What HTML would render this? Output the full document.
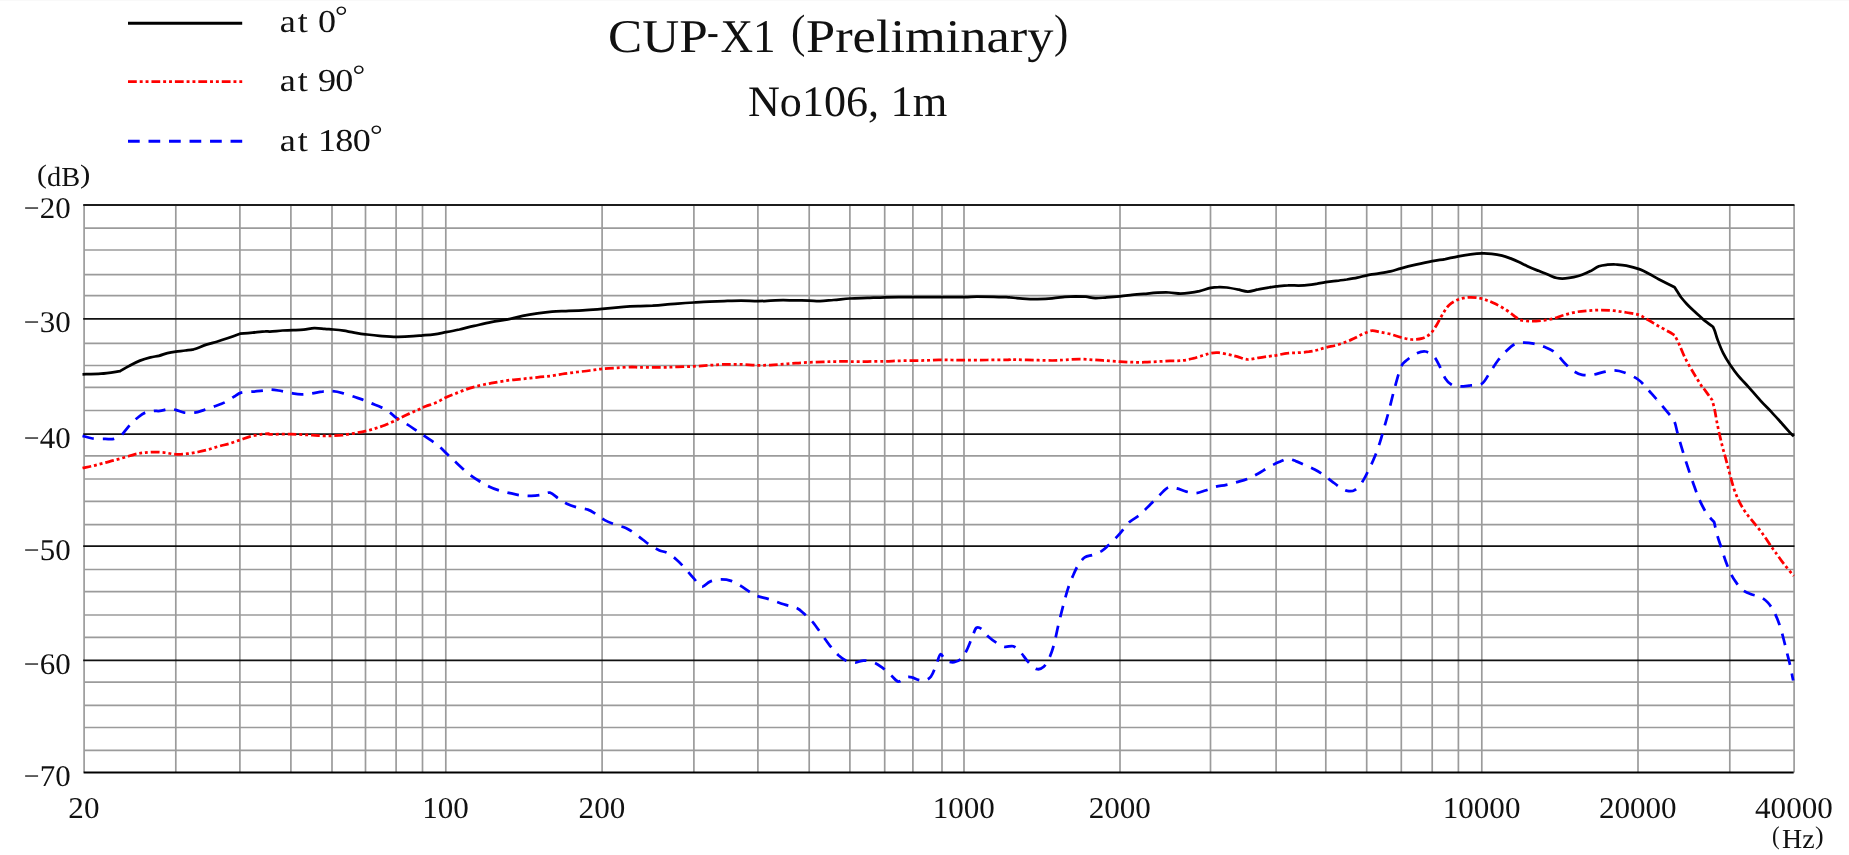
<!DOCTYPE html>
<html lang="en"><head><meta charset="utf-8"><title>CUP-X1 (Preliminary) No106, 1m</title>
<style>html,body{margin:0;padding:0;background:#fff;overflow:hidden}svg{display:block;will-change:transform}</style></head>
<body>
<svg width="1849" height="855" viewBox="0 0 1849 855" font-family="'Liberation Serif', serif" text-rendering="geometricPrecision" fill="#111">
<rect width="1849" height="855" fill="#fff"/>
<rect width="1849" height="1" fill="#f9f9f9"/>
<g stroke="#9b9b9b" stroke-width="1.7" fill="none">
<line x1="84.1" y1="205.0" x2="84.1" y2="772.5"/>
<line x1="175.8" y1="205.0" x2="175.8" y2="772.5"/>
<line x1="239.9" y1="205.0" x2="239.9" y2="772.5"/>
<line x1="290.9" y1="205.0" x2="290.9" y2="772.5"/>
<line x1="332.0" y1="205.0" x2="332.0" y2="772.5"/>
<line x1="365.5" y1="205.0" x2="365.5" y2="772.5"/>
<line x1="396.1" y1="205.0" x2="396.1" y2="772.5"/>
<line x1="422.5" y1="205.0" x2="422.5" y2="772.5"/>
<line x1="445.8" y1="205.0" x2="445.8" y2="772.5"/>
<line x1="602.1" y1="205.0" x2="602.1" y2="772.5"/>
<line x1="693.9" y1="205.0" x2="693.9" y2="772.5"/>
<line x1="757.9" y1="205.0" x2="757.9" y2="772.5"/>
<line x1="809.2" y1="205.0" x2="809.2" y2="772.5"/>
<line x1="849.9" y1="205.0" x2="849.9" y2="772.5"/>
<line x1="884.7" y1="205.0" x2="884.7" y2="772.5"/>
<line x1="912.9" y1="205.0" x2="912.9" y2="772.5"/>
<line x1="942.0" y1="205.0" x2="942.0" y2="772.5"/>
<line x1="964.0" y1="205.0" x2="964.0" y2="772.5"/>
<line x1="1120.0" y1="205.0" x2="1120.0" y2="772.5"/>
<line x1="1210.5" y1="205.0" x2="1210.5" y2="772.5"/>
<line x1="1276.1" y1="205.0" x2="1276.1" y2="772.5"/>
<line x1="1325.8" y1="205.0" x2="1325.8" y2="772.5"/>
<line x1="1366.7" y1="205.0" x2="1366.7" y2="772.5"/>
<line x1="1401.3" y1="205.0" x2="1401.3" y2="772.5"/>
<line x1="1432.2" y1="205.0" x2="1432.2" y2="772.5"/>
<line x1="1458.4" y1="205.0" x2="1458.4" y2="772.5"/>
<line x1="1481.8" y1="205.0" x2="1481.8" y2="772.5"/>
<line x1="1638.0" y1="205.0" x2="1638.0" y2="772.5"/>
<line x1="1729.8" y1="205.0" x2="1729.8" y2="772.5"/>
<line x1="1794.1" y1="205.0" x2="1794.1" y2="772.5"/>
<line x1="84.0" y1="228.1" x2="1794.1" y2="228.1"/>
<line x1="84.0" y1="250.0" x2="1794.1" y2="250.0"/>
<line x1="84.0" y1="274.7" x2="1794.1" y2="274.7"/>
<line x1="84.0" y1="295.6" x2="1794.1" y2="295.6"/>
<line x1="84.0" y1="343.4" x2="1794.1" y2="343.4"/>
<line x1="84.0" y1="365.5" x2="1794.1" y2="365.5"/>
<line x1="84.0" y1="387.4" x2="1794.1" y2="387.4"/>
<line x1="84.0" y1="410.5" x2="1794.1" y2="410.5"/>
<line x1="84.0" y1="455.8" x2="1794.1" y2="455.8"/>
<line x1="84.0" y1="479.0" x2="1794.1" y2="479.0"/>
<line x1="84.0" y1="501.4" x2="1794.1" y2="501.4"/>
<line x1="84.0" y1="524.6" x2="1794.1" y2="524.6"/>
<line x1="84.0" y1="569.5" x2="1794.1" y2="569.5"/>
<line x1="84.0" y1="591.7" x2="1794.1" y2="591.7"/>
<line x1="84.0" y1="615.0" x2="1794.1" y2="615.0"/>
<line x1="84.0" y1="637.4" x2="1794.1" y2="637.4"/>
<line x1="84.0" y1="682.1" x2="1794.1" y2="682.1"/>
<line x1="84.0" y1="705.4" x2="1794.1" y2="705.4"/>
<line x1="84.0" y1="727.5" x2="1794.1" y2="727.5"/>
<line x1="84.0" y1="750.4" x2="1794.1" y2="750.4"/>
</g>
<g stroke="#111" fill="none">
<line x1="83.2" y1="318.8" x2="1794.5" y2="318.8" stroke-width="1.7"/>
<line x1="83.2" y1="434.2" x2="1794.5" y2="434.2" stroke-width="1.7"/>
<line x1="83.2" y1="546.2" x2="1794.5" y2="546.2" stroke-width="1.7"/>
<line x1="83.2" y1="660.3" x2="1794.5" y2="660.3" stroke-width="1.7"/>
<line x1="83.2" y1="205.0" x2="1794.5" y2="205.0" stroke-width="2" stroke="#1c1c1c"/>
<line x1="83.6" y1="772.5" x2="1793.7" y2="772.5" stroke-width="1.8" stroke="#000"/>
</g>
<g fill="none" stroke-width="2.75" stroke-linejoin="round">
<path stroke="#0000ff" stroke-dasharray="11.72 8.79" d="M82.5 435.8C84.2 436.2 88.8 438.0 92.6 438.5C96.4 439.1 101.8 438.9 105.3 438.9C108.8 439.0 110.9 439.7 113.7 438.9C116.5 438.2 120.7 435.4 122.1 434.7C123.5 433.0 127.9 427.1 130.5 424.2C133.2 421.3 135.4 419.4 137.9 417.5C140.4 415.5 142.6 413.7 145.3 412.6C147.9 411.5 151.2 411.2 153.7 410.9C156.1 410.7 157.5 411.3 160.0 410.9C162.5 410.6 165.8 409.2 168.4 409.1C171.1 408.9 173.2 409.3 175.8 409.9C178.4 410.5 181.1 412.2 184.2 412.6C187.4 413.1 191.4 413.1 194.7 412.6C198.1 412.2 200.9 410.9 204.2 409.9C207.5 408.8 211.2 407.6 214.7 406.3C218.2 405.0 222.1 403.7 225.3 402.1C228.4 400.5 231.1 398.4 233.7 396.8C236.3 395.3 237.9 393.5 241.1 392.6C244.2 391.8 248.9 391.9 252.6 391.6C256.3 391.2 260.3 390.9 263.2 390.5C266.1 390.2 267.5 389.5 270.0 389.5C272.5 389.5 274.9 389.9 278.4 390.5C281.9 391.1 287.2 392.4 291.1 393.1C294.9 393.7 298.1 394.3 301.6 394.3C305.1 394.4 308.6 393.7 312.1 393.3C315.6 392.8 319.3 391.9 322.6 391.6C326.0 391.2 328.8 390.9 332.1 391.2C335.4 391.4 338.9 392.1 342.6 393.1C346.3 394.0 350.9 395.8 354.2 396.8C357.5 397.9 359.8 398.5 362.6 399.6C365.4 400.6 367.9 401.9 371.1 403.2C374.2 404.5 378.4 405.8 381.6 407.4C384.7 408.9 387.5 410.9 390.0 412.6C392.5 414.4 393.5 416.0 396.3 417.9C399.1 419.8 403.3 422.0 406.8 424.2C410.4 426.4 414.2 429.1 417.4 431.2C420.5 433.3 422.3 434.4 425.8 436.8C429.3 439.3 434.7 442.8 438.4 445.8C442.1 448.8 444.7 451.9 447.9 454.8C451.1 457.8 454.0 460.6 457.4 463.7C460.7 466.7 464.4 470.4 467.9 473.2C471.4 476.0 474.9 478.3 478.4 480.5C481.9 482.7 485.4 484.7 488.9 486.4C492.5 488.1 496.0 489.5 499.5 490.6C503.0 491.8 506.5 492.4 510.0 493.2C513.5 493.9 517.0 494.8 520.5 495.3C524.0 495.7 527.5 496.0 531.1 495.9C534.6 495.8 538.4 495.4 541.6 494.8C544.7 494.3 547.2 492.1 550.0 492.7C552.8 493.3 555.6 496.6 558.4 498.4C561.2 500.2 563.7 502.2 566.8 503.7C570.0 505.2 573.9 506.5 577.4 507.5C580.9 508.5 584.7 508.5 587.9 509.6C591.1 510.7 593.5 512.5 596.3 514.2C599.1 516.0 601.6 518.4 604.7 520.1C607.9 521.9 611.8 523.4 615.3 524.7C618.8 526.0 622.6 526.5 625.8 527.9C628.9 529.3 631.4 531.2 634.2 533.2C637.0 535.1 639.8 537.4 642.6 539.5C645.4 541.6 648.2 544.0 651.1 545.8C653.9 547.6 656.7 549.2 659.5 550.4C662.3 551.6 665.1 551.6 667.9 553.2C670.7 554.7 673.5 557.0 676.3 559.5C679.1 561.9 681.8 564.7 684.7 567.9C687.6 571.1 691.0 575.3 693.8 578.4C696.6 581.6 698.9 586.3 701.6 586.8C704.3 587.4 706.8 582.8 710.0 581.6C713.2 580.4 717.0 579.6 720.5 579.5C724.0 579.4 727.5 579.8 731.1 580.9C734.6 582.1 738.4 584.6 741.6 586.4C744.7 588.3 747.3 590.5 750.0 592.1C752.7 593.8 754.8 595.2 758.0 596.3C761.2 597.5 764.7 597.7 768.9 599.1C773.2 600.4 779.1 602.8 783.7 604.3C788.2 605.8 792.8 606.2 796.3 607.9C799.8 609.5 801.9 611.8 804.7 614.2C807.5 616.7 810.4 619.3 813.2 622.6C816.0 626.0 818.8 630.4 821.6 634.2C824.4 638.1 827.2 642.3 830.0 645.8C832.8 649.3 835.8 652.8 838.4 655.3C841.1 657.7 843.0 659.3 845.8 660.5C848.6 661.8 852.3 662.6 855.3 662.6C858.2 662.6 860.5 660.5 863.7 660.5C866.8 660.5 871.1 661.4 874.2 662.6C877.4 663.9 879.8 665.8 882.6 667.9C885.4 670.0 888.4 673.0 891.1 675.3C893.7 677.5 896.0 681.2 898.4 681.6C900.9 681.9 903.5 678.1 905.8 677.4C908.1 676.7 910.0 676.9 912.1 677.4C914.2 677.8 916.3 679.4 918.4 679.9C920.5 680.4 922.6 681.1 924.7 680.5C926.8 679.9 929.1 678.9 931.1 676.3C933.0 673.7 934.7 668.4 936.3 664.7C937.9 661.1 938.9 654.9 940.5 654.2C942.1 653.5 943.5 659.2 945.8 660.5C948.1 661.9 951.6 662.6 954.2 662.2C956.8 661.9 959.5 660.5 961.6 658.4C963.7 656.4 965.1 653.5 966.8 650.0C968.6 646.5 970.5 641.1 972.1 637.4C973.7 633.7 974.7 629.3 976.3 627.9C977.9 626.5 979.6 627.5 981.6 628.9C983.5 630.4 985.4 634.0 987.9 636.3C990.4 638.6 993.5 640.9 996.3 642.6C999.1 644.4 1001.9 646.2 1004.7 646.8C1007.5 647.4 1010.5 645.3 1013.2 646.2C1015.8 647.1 1018.1 649.5 1020.5 652.1C1023.0 654.7 1025.3 658.8 1027.9 661.6C1030.5 664.4 1033.7 668.1 1036.3 668.9C1038.9 669.8 1041.4 668.9 1043.7 666.8C1046.0 664.7 1048.2 660.2 1050.0 656.3C1051.8 652.5 1052.8 648.9 1054.2 643.7C1055.6 638.4 1057.0 630.7 1058.4 624.7C1059.8 618.8 1061.1 613.9 1062.6 607.9C1064.2 601.9 1066.1 594.4 1067.9 588.9C1069.6 583.5 1071.4 579.3 1073.2 575.3C1074.9 571.2 1076.5 567.7 1078.4 564.7C1080.4 561.8 1082.3 559.0 1084.7 557.4C1087.2 555.7 1090.4 555.9 1093.2 554.8C1096.0 553.8 1099.0 552.6 1101.6 551.1C1104.1 549.5 1105.5 548.0 1108.4 545.3C1111.3 542.5 1115.4 538.6 1118.9 534.7C1122.5 530.9 1126.0 525.4 1129.5 522.1C1133.0 518.8 1136.5 517.7 1140.0 514.7C1143.5 511.8 1147.2 507.5 1150.5 504.2C1153.9 500.9 1157.0 497.5 1160.0 494.7C1163.0 491.9 1165.6 488.4 1168.4 487.4C1171.2 486.3 1173.9 487.7 1176.8 488.4C1179.8 489.1 1183.2 490.8 1186.3 491.6C1189.5 492.4 1192.6 493.2 1195.8 493.1C1198.9 492.9 1201.9 491.6 1205.3 490.5C1208.6 489.5 1212.3 487.7 1215.8 486.7C1219.3 485.8 1222.8 485.6 1226.3 484.8C1229.8 484.1 1233.3 483.1 1236.8 482.1C1240.4 481.1 1243.9 480.4 1247.4 478.9C1250.9 477.5 1254.4 475.6 1257.9 473.7C1261.4 471.8 1264.9 469.3 1268.4 467.4C1271.9 465.4 1275.8 463.5 1278.9 462.1C1282.1 460.7 1284.6 459.1 1287.4 458.9C1290.2 458.8 1292.8 460.0 1295.8 461.1C1298.8 462.1 1302.1 463.9 1305.3 465.3C1308.4 466.7 1311.8 467.9 1314.7 469.5C1317.7 471.1 1320.4 472.8 1323.2 474.7C1326.0 476.7 1328.8 478.9 1331.6 481.1C1334.4 483.2 1337.4 485.7 1340.0 487.4C1342.6 489.0 1344.9 490.5 1347.4 490.9C1349.8 491.4 1352.3 491.6 1354.7 490.1C1357.2 488.6 1359.8 485.4 1362.1 482.1C1364.4 478.8 1366.3 474.7 1368.4 470.5C1370.5 466.3 1372.8 461.6 1374.7 456.8C1376.7 452.1 1378.4 447.0 1380.0 442.1C1381.6 437.2 1382.8 432.3 1384.2 427.4C1385.6 422.5 1386.7 419.2 1388.4 412.6C1390.2 406.1 1392.6 395.5 1394.7 387.9C1396.8 380.3 1399.1 371.4 1401.1 366.8C1403.0 362.3 1403.9 362.7 1406.3 360.5C1408.8 358.4 1412.6 355.3 1415.8 353.8C1418.9 352.3 1422.3 351.1 1425.3 351.5C1428.2 351.9 1431.4 354.1 1433.7 356.3C1436.0 358.5 1437.0 361.1 1438.9 364.7C1440.9 368.4 1443.2 375.1 1445.3 378.4C1447.4 381.8 1449.1 383.4 1451.6 384.7C1454.0 386.1 1456.8 386.3 1460.0 386.4C1463.2 386.5 1466.9 385.8 1470.5 385.4C1474.2 384.9 1478.7 385.7 1481.9 383.7C1485.1 381.6 1486.8 377.0 1489.5 373.2C1492.1 369.3 1495.1 364.2 1497.9 360.5C1500.7 356.8 1503.5 353.8 1506.3 351.1C1509.1 348.3 1511.9 345.5 1514.7 344.1C1517.5 342.7 1520.0 342.7 1523.2 342.6C1526.3 342.6 1530.2 343.0 1533.7 343.7C1537.2 344.4 1540.7 345.4 1544.2 346.8C1547.7 348.2 1551.2 349.3 1554.7 352.1C1558.2 354.9 1562.1 360.5 1565.3 363.7C1568.4 366.8 1570.9 369.2 1573.7 371.1C1576.5 372.9 1578.9 374.2 1582.1 374.8C1585.3 375.5 1589.1 375.3 1592.6 374.8C1596.1 374.4 1599.6 372.8 1603.2 372.1C1606.7 371.4 1610.2 370.4 1613.7 370.4C1617.2 370.5 1620.1 371.0 1624.2 372.5C1628.3 374.0 1634.2 376.7 1638.1 379.5C1642.0 382.2 1644.4 385.8 1647.4 388.9C1650.3 392.1 1654.1 396.6 1655.8 398.4C1657.5 400.3 1655.4 397.6 1657.4 400.0C1659.4 402.4 1665.1 409.1 1667.9 412.6C1670.7 416.1 1672.6 417.7 1674.2 421.1C1675.8 424.4 1676.1 428.2 1677.4 432.6C1678.6 437.0 1680.0 442.1 1681.6 447.4C1683.2 452.6 1684.9 458.2 1686.8 464.2C1688.8 470.2 1691.1 477.2 1693.2 483.2C1695.3 489.1 1697.2 494.9 1699.5 500.0C1701.8 505.1 1704.4 510.0 1706.8 513.7C1709.3 517.4 1713.0 520.7 1714.2 522.1C1714.7 524.4 1716.1 531.4 1717.4 535.8C1718.6 540.2 1720.2 544.1 1721.6 548.4C1723.0 552.7 1724.2 557.3 1725.8 561.6C1727.4 565.9 1729.3 570.7 1731.1 574.2C1732.8 577.7 1734.4 580.0 1736.3 582.6C1738.2 585.3 1740.2 588.1 1742.6 590.0C1745.1 591.9 1748.1 593.1 1751.1 594.2C1754.0 595.4 1757.7 595.5 1760.5 596.9C1763.3 598.4 1765.6 600.1 1767.9 602.6C1770.2 605.2 1772.3 608.4 1774.2 612.1C1776.1 615.8 1777.9 620.2 1779.5 624.7C1781.1 629.3 1782.5 634.9 1783.7 639.5C1784.9 644.0 1785.8 647.9 1786.8 652.1C1787.9 656.3 1788.9 660.0 1790.0 664.7C1791.1 669.5 1792.6 677.9 1793.2 680.5"/>
<path stroke="#ff0000" stroke-dasharray="8.79 2.93 2.93 2.93 2.93 2.93" d="M82.5 468.0C84.2 467.6 89.2 466.7 92.6 465.9C96.1 465.1 99.6 464.1 103.2 463.2C106.7 462.2 110.2 461.4 113.7 460.4C117.2 459.5 120.7 458.5 124.2 457.5C127.7 456.5 131.6 455.1 134.7 454.3C137.9 453.5 140.2 453.2 143.2 452.8C146.1 452.5 149.1 452.0 152.6 452.0C156.1 452.0 160.4 452.2 164.2 452.6C168.1 453.0 171.9 454.1 175.8 454.3C179.6 454.5 183.7 454.1 187.4 453.7C191.1 453.3 194.4 452.7 197.9 452.0C201.4 451.3 204.9 450.4 208.4 449.5C211.9 448.5 215.4 447.3 218.9 446.3C222.5 445.3 226.0 444.6 229.5 443.6C233.0 442.5 236.5 441.2 240.0 440.0C243.5 438.8 247.0 437.4 250.5 436.4C254.0 435.5 258.1 434.8 261.1 434.3C264.0 433.9 266.9 433.7 268.4 433.7C269.9 433.7 266.2 434.2 270.0 434.3C273.8 434.4 284.0 434.0 291.1 434.1C298.1 434.2 306.8 434.9 312.1 435.2C317.4 435.4 319.3 435.7 322.6 435.8C326.0 435.9 328.8 435.9 332.1 435.8C335.4 435.7 338.9 435.6 342.6 435.2C346.3 434.7 350.4 433.9 354.2 433.3C358.0 432.6 361.9 432.0 365.4 431.2C368.9 430.4 372.0 429.4 375.3 428.4C378.5 427.4 381.2 426.7 384.7 425.3C388.2 423.9 392.6 421.8 396.3 420.0C400.0 418.2 403.3 416.4 406.8 414.7C410.4 413.1 414.2 411.5 417.4 410.1C420.5 408.7 422.6 407.6 425.8 406.3C428.9 405.1 433.0 404.0 436.3 402.5C439.6 401.1 442.6 398.9 445.8 397.5C448.9 396.0 451.9 395.0 455.3 393.7C458.6 392.4 462.3 390.7 465.8 389.5C469.3 388.2 472.1 387.4 476.3 386.3C480.5 385.3 485.8 384.1 491.1 383.2C496.3 382.2 502.6 381.1 507.9 380.4C513.2 379.7 517.7 379.5 522.6 378.9C527.5 378.4 532.5 377.8 537.4 377.3C542.3 376.7 547.5 376.4 552.1 375.8C556.7 375.2 560.5 374.3 564.7 373.7C568.9 373.1 573.2 372.5 577.4 372.0C581.6 371.5 585.9 371.1 590.0 370.5C594.1 370.0 597.6 369.3 602.2 368.8C606.8 368.4 612.4 368.1 617.4 367.8C622.4 367.5 628.3 367.0 632.1 366.9C635.9 366.9 635.2 367.3 640.0 367.4C644.8 367.4 654.7 367.4 661.1 367.4C667.4 367.3 672.4 367.1 677.9 366.9C683.4 366.8 688.8 366.6 694.1 366.3C699.4 366.0 704.5 365.6 709.5 365.3C714.5 364.9 718.9 364.6 724.2 364.4C729.5 364.3 735.4 364.3 741.1 364.4C746.7 364.6 753.0 365.2 757.9 365.3C762.8 365.4 766.3 365.2 770.5 365.1C774.7 364.9 778.9 364.5 783.2 364.2C787.4 363.9 791.5 363.5 795.8 363.2C800.1 362.8 804.5 362.5 809.1 362.3C813.6 362.1 818.7 362.0 823.2 361.9C827.6 361.8 831.3 361.5 835.8 361.5C840.2 361.4 844.6 361.5 849.9 361.5C855.2 361.5 861.5 361.5 867.4 361.5C873.2 361.4 879.6 361.4 884.8 361.3C890.1 361.2 894.2 360.9 898.9 360.8C903.6 360.7 908.5 360.7 913.1 360.6C917.6 360.6 922.0 360.6 926.3 360.4C930.6 360.3 934.7 359.9 938.9 359.8C943.2 359.7 947.4 359.9 951.6 360.0C955.8 360.1 958.2 360.2 964.2 360.2C970.2 360.2 980.0 360.1 987.4 360.0C994.7 359.9 1004.6 359.9 1008.4 359.8C1012.2 359.7 1006.9 359.5 1010.0 359.5C1013.1 359.5 1019.8 359.7 1026.8 359.9C1033.9 360.1 1045.8 360.5 1052.1 360.5C1058.4 360.5 1060.2 360.1 1064.7 359.9C1069.3 359.6 1074.6 359.1 1079.5 359.1C1084.4 359.1 1089.6 359.6 1094.2 359.9C1098.8 360.2 1102.6 360.5 1106.8 360.7C1111.1 361.0 1115.7 361.3 1119.9 361.6C1124.1 361.8 1128.0 362.1 1132.1 362.2C1136.2 362.3 1140.5 362.3 1144.7 362.2C1148.9 362.1 1153.2 361.8 1157.4 361.6C1161.6 361.4 1165.8 361.1 1170.0 360.9C1174.2 360.8 1178.8 360.9 1182.6 360.5C1186.5 360.1 1189.6 359.3 1193.2 358.4C1196.7 357.5 1200.8 356.1 1203.7 355.3C1206.6 354.4 1208.2 353.6 1210.6 353.2C1213.1 352.7 1215.4 352.5 1218.4 352.7C1221.5 353.0 1225.8 354.0 1228.9 354.6C1232.1 355.3 1234.2 355.9 1237.4 356.7C1240.5 357.5 1244.4 359.3 1247.9 359.5C1251.4 359.6 1254.9 358.3 1258.4 357.8C1261.9 357.3 1266.0 356.7 1268.9 356.3C1271.9 355.9 1273.2 355.8 1276.3 355.3C1279.5 354.7 1284.2 353.6 1287.9 353.2C1291.6 352.7 1294.9 353.0 1298.4 352.7C1301.9 352.5 1305.8 352.1 1308.9 351.7C1312.1 351.2 1314.6 350.7 1317.4 350.0C1320.2 349.3 1322.6 348.3 1325.8 347.5C1328.9 346.7 1332.8 346.1 1336.3 345.2C1339.8 344.2 1343.7 342.8 1346.8 341.6C1350.0 340.4 1352.5 339.1 1355.3 337.8C1358.1 336.5 1360.9 334.8 1363.7 333.6C1366.5 332.4 1369.4 330.9 1372.1 330.6C1374.8 330.4 1376.9 331.5 1380.0 332.1C1383.1 332.7 1387.0 333.3 1390.5 334.2C1394.0 335.1 1397.5 336.5 1401.1 337.4C1404.6 338.2 1408.1 339.3 1411.6 339.5C1415.1 339.6 1418.9 339.4 1422.1 338.4C1425.3 337.4 1428.1 335.9 1430.5 333.6C1433.0 331.3 1434.7 328.1 1436.8 324.7C1438.9 321.3 1441.1 316.5 1443.2 313.2C1445.3 309.8 1446.9 307.0 1449.5 304.7C1452.0 302.5 1455.2 300.7 1458.3 299.5C1461.5 298.2 1465.0 297.6 1468.4 297.4C1471.9 297.1 1475.8 297.5 1478.9 298.0C1482.1 298.5 1484.6 299.5 1487.4 300.5C1490.2 301.5 1492.6 302.5 1495.8 304.1C1498.9 305.7 1503.2 308.0 1506.3 310.0C1509.5 312.0 1512.3 314.6 1514.7 316.3C1517.2 318.0 1518.2 319.3 1521.1 320.1C1523.9 320.9 1528.1 321.1 1531.6 321.2C1535.1 321.2 1538.6 320.9 1542.1 320.5C1545.6 320.1 1549.1 319.7 1552.6 318.8C1556.1 318.0 1559.3 316.4 1563.2 315.3C1567.0 314.1 1571.6 312.9 1575.8 312.1C1580.0 311.3 1584.2 311.0 1588.4 310.6C1592.6 310.3 1596.8 310.0 1601.1 310.0C1605.3 310.0 1609.5 310.2 1613.7 310.6C1617.9 311.1 1622.2 311.9 1626.3 312.5C1630.4 313.2 1634.6 313.5 1638.1 314.6C1641.6 315.8 1644.1 317.6 1647.4 319.5C1650.7 321.3 1654.4 323.8 1657.9 325.8C1661.4 327.8 1665.6 329.9 1668.4 331.5C1671.2 333.1 1673.7 334.7 1674.7 335.3C1675.4 336.7 1677.2 339.8 1678.9 343.7C1680.7 347.5 1682.8 353.5 1685.3 358.4C1687.7 363.3 1690.9 368.4 1693.7 373.2C1696.5 377.9 1700.4 384.3 1702.1 386.8C1703.8 389.4 1702.0 386.2 1703.7 388.4C1705.3 390.6 1710.7 398.1 1712.1 400.0C1712.5 401.6 1713.9 406.0 1714.6 409.5C1715.4 413.0 1715.9 416.9 1716.7 421.1C1717.5 425.2 1718.5 429.9 1719.5 434.3C1720.5 438.7 1721.5 442.9 1722.6 447.4C1723.8 451.8 1725.2 456.5 1726.4 461.1C1727.6 465.6 1728.7 470.0 1730.0 474.7C1731.3 479.5 1732.6 484.9 1734.2 489.5C1735.8 494.0 1737.5 498.2 1739.5 502.1C1741.4 506.0 1743.3 509.1 1745.8 512.6C1748.2 516.1 1751.4 519.6 1754.2 523.2C1757.0 526.7 1759.8 529.8 1762.6 533.7C1765.4 537.5 1768.9 543.2 1771.1 546.3C1773.2 549.4 1773.2 549.2 1775.3 552.1C1777.4 555.0 1780.6 559.7 1783.7 563.7C1786.8 567.6 1792.1 573.9 1793.8 575.9"/>
<path stroke="#000" d="M82.5 374.3C85.6 374.2 94.8 374.2 101.1 373.7C107.3 373.2 116.8 371.6 120.0 371.2C121.6 370.3 126.1 367.4 129.5 365.7C132.8 363.9 136.5 362.0 140.0 360.6C143.5 359.2 147.4 358.1 150.5 357.3C153.7 356.5 156.1 356.5 158.9 355.8C161.8 355.1 164.6 353.8 167.4 353.1C170.2 352.4 172.8 352.0 175.8 351.6C178.8 351.2 182.3 350.9 185.3 350.5C188.2 350.1 190.2 350.2 193.7 349.3C197.2 348.3 202.5 345.9 206.3 344.6C210.2 343.4 213.3 342.7 216.8 341.7C220.4 340.6 223.5 339.6 227.4 338.3C231.2 337.0 237.9 334.5 240.0 333.7C242.1 333.5 248.4 333.0 252.6 332.6C256.8 332.2 262.4 331.5 265.3 331.4C268.2 331.2 267.1 331.7 270.0 331.6C272.9 331.4 278.8 330.8 282.6 330.5C286.5 330.3 289.6 330.2 293.2 330.1C296.7 330.0 300.2 330.0 303.7 329.7C307.2 329.4 310.7 328.4 314.2 328.2C317.7 328.1 321.6 328.6 324.7 328.8C327.9 329.1 330.0 329.2 333.2 329.5C336.3 329.8 340.2 330.2 343.7 330.7C347.2 331.3 350.6 332.0 354.2 332.6C357.8 333.2 361.2 333.8 365.4 334.3C369.6 334.8 374.3 335.4 379.5 335.8C384.6 336.2 390.7 336.8 396.3 336.8C401.9 336.9 408.8 336.5 413.2 336.2C417.5 336.0 419.1 335.7 422.6 335.4C426.1 335.1 430.4 334.8 434.2 334.3C438.1 333.8 441.6 333.0 445.8 332.2C450.0 331.4 454.7 330.5 459.5 329.5C464.2 328.4 468.9 327.1 474.2 325.9C479.5 324.7 485.4 323.2 491.1 322.1C496.7 321.0 502.6 320.4 507.9 319.4C513.2 318.3 517.7 316.8 522.6 315.8C527.5 314.8 532.5 314.0 537.4 313.3C542.3 312.6 546.8 312.0 552.1 311.6C557.4 311.2 563.3 311.2 568.9 310.9C574.6 310.7 580.2 310.5 585.8 310.1C591.3 309.8 595.9 309.4 602.2 308.8C608.5 308.3 617.3 307.4 623.7 306.9C630.1 306.5 635.7 306.3 640.5 306.1C645.4 305.9 648.5 305.9 652.6 305.7C656.8 305.4 661.1 305.0 665.3 304.6C669.5 304.3 673.1 303.9 677.9 303.6C682.7 303.2 688.8 302.8 694.1 302.5C699.4 302.2 704.5 301.9 709.5 301.7C714.5 301.4 718.9 301.2 724.2 301.1C729.5 300.9 735.4 300.6 741.1 300.6C746.7 300.6 753.0 301.1 757.9 301.1C762.8 301.1 766.3 300.8 770.5 300.6C774.7 300.5 778.9 300.2 783.2 300.2C787.4 300.2 791.5 300.4 795.8 300.4C800.1 300.5 805.0 300.5 809.1 300.6C813.1 300.7 815.9 301.2 820.0 301.1C824.1 300.9 828.7 300.4 833.7 300.0C838.7 299.6 844.3 298.9 849.9 298.5C855.5 298.2 861.5 298.1 867.4 297.9C873.2 297.7 879.6 297.4 884.8 297.3C890.1 297.1 894.2 297.1 898.9 297.1C903.6 297.0 908.1 297.1 913.1 297.1C918.0 297.1 923.6 297.1 928.4 297.1C933.3 297.1 936.1 297.1 942.1 297.1C948.1 297.1 958.4 297.1 964.2 297.1C970.0 297.0 971.9 296.7 976.8 296.6C981.8 296.6 988.4 296.7 993.7 296.8C998.9 296.9 1005.7 297.2 1008.4 297.3C1011.1 297.4 1007.6 297.1 1010.0 297.4C1012.4 297.6 1018.1 298.4 1022.6 298.6C1027.2 298.9 1032.5 299.1 1037.4 299.1C1042.3 299.0 1047.5 298.8 1052.1 298.4C1056.7 298.1 1060.9 297.3 1064.7 296.9C1068.6 296.6 1071.8 296.4 1075.3 296.3C1078.8 296.3 1082.5 296.4 1085.8 296.7C1089.1 297.1 1091.8 298.1 1095.3 298.2C1098.8 298.3 1102.7 297.7 1106.8 297.4C1110.9 297.1 1115.7 296.7 1119.9 296.3C1124.1 295.9 1128.0 295.3 1132.1 294.8C1136.2 294.4 1140.5 294.1 1144.7 293.8C1148.9 293.4 1153.3 292.9 1157.4 292.7C1161.4 292.5 1165.1 292.4 1168.9 292.5C1172.8 292.7 1177.2 293.5 1180.5 293.6C1183.9 293.6 1185.8 293.4 1188.9 292.9C1192.1 292.5 1195.9 291.9 1199.5 291.1C1203.1 290.2 1207.5 288.6 1210.6 287.9C1213.8 287.2 1215.7 287.1 1218.4 287.1C1221.1 287.0 1223.7 287.1 1226.8 287.5C1230.0 287.9 1233.9 288.7 1237.4 289.4C1240.9 290.0 1244.4 291.5 1247.9 291.5C1251.4 291.5 1254.9 290.0 1258.4 289.4C1261.9 288.7 1266.0 288.0 1268.9 287.5C1271.9 287.0 1273.2 286.8 1276.3 286.4C1279.5 286.1 1284.2 285.5 1287.9 285.4C1291.6 285.2 1294.9 285.6 1298.4 285.6C1301.9 285.5 1305.8 285.3 1308.9 284.9C1312.1 284.6 1314.6 284.1 1317.4 283.7C1320.2 283.2 1322.6 282.7 1325.8 282.2C1328.9 281.8 1332.8 281.4 1336.3 280.9C1339.8 280.5 1343.3 280.0 1346.8 279.5C1350.4 278.9 1354.0 278.3 1357.4 277.6C1360.7 276.9 1363.7 275.9 1366.8 275.3C1370.0 274.6 1372.4 274.5 1376.3 273.8C1380.3 273.1 1386.4 272.2 1390.5 271.3C1394.6 270.4 1396.8 269.4 1401.1 268.3C1405.3 267.2 1410.6 265.9 1415.8 264.7C1421.0 263.5 1427.3 262.1 1432.2 261.2C1437.1 260.2 1440.9 259.9 1445.3 259.1C1449.6 258.2 1454.1 257.1 1458.3 256.3C1462.5 255.5 1466.6 254.9 1470.5 254.4C1474.5 253.9 1478.4 253.5 1481.9 253.4C1485.4 253.3 1488.2 253.4 1491.6 253.8C1494.9 254.2 1498.9 254.9 1502.1 255.7C1505.3 256.5 1507.7 257.4 1510.5 258.4C1513.3 259.5 1516.1 260.7 1518.9 262.0C1521.8 263.3 1524.2 264.8 1527.4 266.2C1530.5 267.6 1534.4 269.2 1537.9 270.6C1541.4 272.1 1545.3 273.6 1548.4 274.8C1551.6 276.1 1554.0 277.4 1556.8 278.0C1559.6 278.6 1562.5 278.6 1565.3 278.4C1568.1 278.3 1570.9 277.8 1573.7 277.2C1576.5 276.6 1579.3 275.9 1582.1 274.8C1584.9 273.8 1587.7 272.5 1590.5 271.1C1593.3 269.6 1596.1 267.3 1598.9 266.2C1601.8 265.2 1604.6 265.0 1607.4 264.7C1610.2 264.5 1612.6 264.4 1615.8 264.5C1618.9 264.7 1622.3 264.8 1626.3 265.6C1630.4 266.4 1636.2 268.0 1640.0 269.4C1643.8 270.8 1646.3 272.4 1649.4 274.0C1652.5 275.6 1655.6 277.6 1658.7 279.2C1661.8 280.8 1665.4 282.6 1668.1 283.9C1670.8 285.2 1673.5 286.6 1674.6 287.2C1675.1 288.0 1676.4 290.1 1677.5 291.8C1678.6 293.5 1679.7 295.5 1681.2 297.5C1682.8 299.5 1684.9 302.0 1686.8 304.0C1688.7 306.0 1690.5 307.8 1692.4 309.6C1694.3 311.4 1696.2 313.1 1698.1 314.8C1700.0 316.5 1701.8 318.3 1703.7 319.9C1705.6 321.4 1707.8 322.9 1709.3 324.1C1710.8 325.3 1712.4 326.4 1713.0 326.9C1713.3 327.6 1714.1 329.0 1714.9 331.2C1715.7 333.4 1716.3 336.3 1717.7 340.0C1719.1 343.7 1721.1 349.0 1723.2 353.2C1725.2 357.3 1727.6 361.1 1730.1 364.7C1732.6 368.4 1734.8 371.6 1737.9 375.3C1740.9 378.9 1744.6 382.6 1748.4 386.8C1752.2 391.1 1756.8 396.5 1760.5 400.6C1764.3 404.8 1767.5 407.8 1771.1 411.6C1774.6 415.3 1778.4 419.6 1781.6 423.2C1784.7 426.7 1788.0 430.4 1790.0 432.6C1792.0 434.8 1793.2 435.8 1793.8 436.4"/>
</g><g fill="none" stroke-width="2.93">
<line x1="128" y1="23.2" x2="242.2" y2="23.2" stroke="#000"/>
<line x1="128" y1="81.6" x2="242.2" y2="81.6" stroke="#ff0000" stroke-dasharray="8.79 2.93 2.93 2.93 2.93 2.93"/>
<line x1="128" y1="141.3" x2="242.2" y2="141.3" stroke="#0000ff" stroke-dasharray="11.72 8.79"/>
</g>
<g transform="translate(0,32.0) scale(1.130,1)"><text font-size="32" x="247.61 263.54 274.34 281.50">at 0<tspan font-size="28" x="296.55" dy="-6.7">°</tspan></text></g>
<g transform="translate(0,90.5) scale(1.130,1)"><text font-size="32" x="247.61 263.54 274.34 281.50 296.73">at 90<tspan font-size="28" x="312.04" dy="-6.7">°</tspan></text></g>
<g transform="translate(0,150.6) scale(1.130,1)"><text font-size="32" x="247.61 263.54 274.34 281.42 296.64 312.12">at 180<tspan font-size="28" x="327.52" dy="-6.7">°</tspan></text></g>
<text><tspan x="608.00" y="52.1" font-size="47" textLength="99.62" lengthAdjust="spacingAndGlyphs">CUP</tspan><tspan x="707.00" y="44.5" font-size="40" textLength="11.72" lengthAdjust="spacingAndGlyphs">-</tspan><tspan x="720.50" y="52.1" font-size="47" textLength="55.21" lengthAdjust="spacingAndGlyphs">X1</tspan> <tspan x="791.00" y="46.8" font-size="47" textLength="14.40" lengthAdjust="spacingAndGlyphs">(</tspan><tspan x="806.00" y="52.1" font-size="47" textLength="247.51" lengthAdjust="spacingAndGlyphs">Preliminary</tspan><tspan x="1054.00" y="46.8" font-size="47" textLength="14.28" lengthAdjust="spacingAndGlyphs">)</tspan></text>
<text><tspan x="748.00" y="116.4" font-size="43.5" textLength="131.10" lengthAdjust="spacingAndGlyphs">No106,</tspan> <tspan x="890.50" y="116.4" font-size="43.5" textLength="56.81" lengthAdjust="spacingAndGlyphs">1m</tspan></text>
<text><tspan x="1772.00" y="843.5" font-size="25.5" textLength="7.71" lengthAdjust="spacingAndGlyphs">(</tspan><tspan x="1782.00" y="847.6" font-size="27.6" textLength="32.52" lengthAdjust="spacingAndGlyphs">Hz</tspan><tspan x="1815.00" y="843.5" font-size="25.5" textLength="8.63" lengthAdjust="spacingAndGlyphs">)</tspan></text>
<text><tspan x="37.00" y="182.7" font-size="26.5" textLength="9.81" lengthAdjust="spacingAndGlyphs">(</tspan><tspan x="47.00" y="186.4" font-size="27.6" textLength="33.08" lengthAdjust="spacingAndGlyphs">dB</tspan><tspan x="80.00" y="182.7" font-size="26.5" textLength="10.37" lengthAdjust="spacingAndGlyphs">)</tspan></text>
<text transform="translate(0,218.3) scale(1.030,1)" font-size="30.0"><tspan x="23.11" font-size="27" dy="-0.9">−</tspan><tspan x="38.64" dy="0.9">20</tspan></text>
<text transform="translate(0,332.2) scale(1.030,1)" font-size="30.0"><tspan x="23.11" font-size="27" dy="-0.9">−</tspan><tspan x="38.64" dy="0.9">30</tspan></text>
<text transform="translate(0,447.6) scale(1.030,1)" font-size="30.0"><tspan x="23.11" font-size="27" dy="-0.9">−</tspan><tspan x="38.64" dy="0.9">40</tspan></text>
<text transform="translate(0,559.6) scale(1.030,1)" font-size="30.0"><tspan x="23.11" font-size="27" dy="-0.9">−</tspan><tspan x="38.64" dy="0.9">50</tspan></text>
<text transform="translate(0,673.6) scale(1.030,1)" font-size="30.0"><tspan x="23.11" font-size="27" dy="-0.9">−</tspan><tspan x="38.64" dy="0.9">60</tspan></text>
<text transform="translate(0,785.8) scale(1.030,1)" font-size="30.0"><tspan x="23.11" font-size="27" dy="-0.9">−</tspan><tspan x="38.64" dy="0.9">70</tspan></text>
<text transform="translate(83.9,818.0) scale(1.030,1)" font-size="30.2" text-anchor="middle">20</text>
<text transform="translate(445.6,818.0) scale(1.030,1)" font-size="30.2" text-anchor="middle">100</text>
<text transform="translate(601.9,818.0) scale(1.030,1)" font-size="30.2" text-anchor="middle">200</text>
<text transform="translate(963.8,818.0) scale(1.030,1)" font-size="30.2" text-anchor="middle">1000</text>
<text transform="translate(1119.8,818.0) scale(1.030,1)" font-size="30.2" text-anchor="middle">2000</text>
<text transform="translate(1481.6,818.0) scale(1.030,1)" font-size="30.2" text-anchor="middle">10000</text>
<text transform="translate(1637.8,818.0) scale(1.030,1)" font-size="30.2" text-anchor="middle">20000</text>
<text transform="translate(1793.9,818.0) scale(1.030,1)" font-size="30.2" text-anchor="middle">40000</text>
</svg>
</body></html>
